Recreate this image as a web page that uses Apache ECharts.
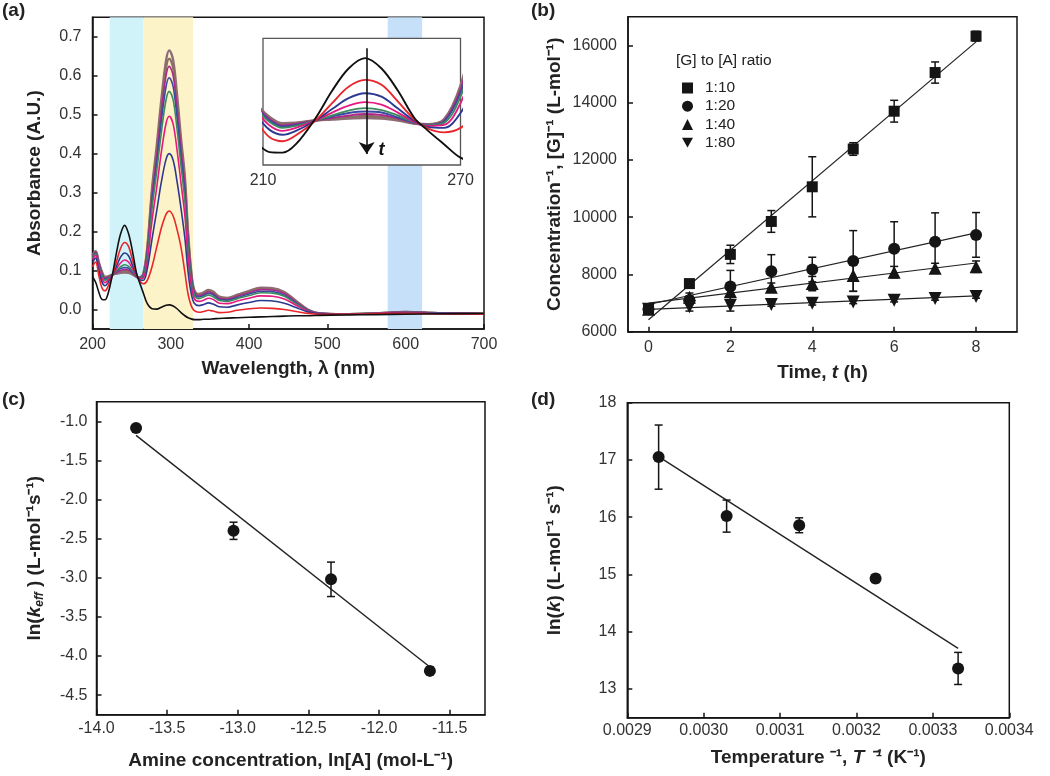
<!DOCTYPE html>
<html><head><meta charset="utf-8">
<script src="https://cdn.jsdelivr.net/npm/echarts@6/dist/echarts.min.js"></script>
<style>html,body{margin:0;padding:0;background:#fff}#c{width:1050px;height:776px}</style>
</head><body><div id="c"></div>
<script>
// ---------- Panel (a): UV-vis spectra ----------
const wavelengths = [200,204,208,212,216,220,226,231,236,241,246,251,256,260,265,270,276,282,288,294,298,303,308,313,318,322,326,330,336,342,348,354,362,372,385,400,415,430,445,460,475,490,520,560,600,640,700];
const specBlack   = [.084,.070,.045,.026,.025,.042,.095,.150,.195,.216,.195,.150,.095,.070,.042,.015,.002,.001,.006,.011,.012,.009,.002,-.008,-.016,-.021,-.024,-.026,-.026,-.025,-.025,-.024,-.023,-.022,-.021,-.020,-.019,-.018,-.017,-.016,-.016,-.015,-.014,-.013,-.012,-.011,-.010];
const specRed     = [.110,.122,.088,.056,.048,.060,.090,.125,.158,.172,.162,.128,.092,.074,.066,.075,.110,.160,.210,.245,.253,.240,.205,.160,.095,.040,.010,-.003,-.007,-.005,-.002,-.004,-.008,-.007,-.002,.002,.004,.003,.000,-.005,-.010,-.012,-.012,-.011,-.010,-.011,-.012];
const specBlue    = [.121,.132,.100,.071,.061,.069,.090,.113,.135,.145,.138,.114,.089,.077,.075,.105,.181,.253,.328,.386,.400,.383,.328,.260,.183,.097,.042,.016,.010,.013,.017,.014,.007,.006,.012,.018,.023,.022,.016,.005,-.006,-.011,-.012,-.011,-.009,-.010,-.012];
const specMagenta = [.128,.139,.108,.080,.069,.075,.090,.106,.120,.127,.122,.106,.087,.079,.081,.125,.228,.313,.405,.478,.496,.476,.409,.325,.240,.134,.063,.028,.021,.024,.029,.026,.016,.015,.022,.029,.035,.034,.027,.011,-.004,-.011,-.012,-.010,-.008,-.010,-.011];
const specGreen   = [.132,.143,.113,.087,.075,.079,.090,.100,.110,.115,.111,.100,.086,.080,.085,.138,.259,.354,.456,.539,.560,.538,.462,.369,.278,.159,.077,.037,.028,.032,.037,.033,.023,.021,.028,.036,.043,.042,.034,.015,-.003,-.011,-.012,-.010,-.007,-.010,-.011];
const specNavy    = [.135,.145,.116,.090,.078,.081,.090,.098,.105,.108,.106,.096,.085,.081,.088,.146,.276,.376,.484,.573,.595,.572,.491,.392,.298,.173,.085,.041,.032,.036,.041,.038,.026,.024,.031,.040,.047,.046,.037,.017,-.002,-.010,-.012,-.010,-.007,-.009,-.011];
const specPurple  = [.137,.147,.119,.093,.080,.083,.090,.095,.100,.103,.101,.094,.085,.081,.089,.152,.290,.394,.507,.601,.624,.600,.516,.412,.316,.184,.091,.045,.035,.039,.045,.041,.029,.026,.034,.043,.051,.050,.041,.019,-.001,-.010,-.012,-.010,-.006,-.009,-.011];
const specBrown   = [.139,.149,.120,.095,.082,.084,.090,.094,.097,.099,.097,.092,.084,.082,.091,.156,.300,.407,.524,.620,.644,.620,.533,.426,.328,.192,.096,.047,.038,.042,.047,.044,.031,.028,.036,.046,.053,.052,.043,.021,-.001,-.010,-.012,-.010,-.006,-.009,-.011];
const specMauve   = [.140,.150,.122,.097,.084,.085,.090,.092,.094,.095,.094,.090,.084,.082,.092,.160,.310,.420,.540,.640,.665,.640,.550,.440,.340,.200,.100,.050,.040,.044,.050,.046,.033,.030,.038,.048,.056,.055,.045,.022,.000,-.010,-.012,-.010,-.006,-.009,-.011];
const bandsA = [[222, 265], [265, 328.5], [577, 621]];
const ticksAX = [200,300,400,500,600,700];
const ticksAY = [0,0.1,0.2,0.3,0.4,0.5,0.6,0.7];
const insetTicks = [210, 270];
const arrowInset = [241.5, 0.236, 0.022]; // x, from, to
const tLabelInset = [246, 0.031];

// ---------- Panel (b) ----------
const timesB = [0,1,2,3,4,5,6,7,8];
const r10 = [6780,7680,8700,9850,11060,12380,13700,15050,16320];
const r10err = [100,120,320,380,1050,220,380,370,170];
const r20 = [6780,7100,7580,8110,8170,8470,8900,9140,9380];
const r20err = [80,150,560,580,430,1060,940,1010,780];
const r40 = [6780,7200,7400,7550,7680,7960,8080,8220,8270];
const r40err = [80,150,300,150,250,550,200,170,200];
const r80 = [6780,6870,6920,6950,6990,7040,7100,7160,7230];
const r80err = [60,150,200,60,60,60,60,60,60];
const fit10 = [[0,6420],[8,16120]];
const fit20 = [[0,6950],[8,9450]];
const fit40 = [[0,7000],[8,8400]];
const fit80 = [[0,6780],[8,7250]];
const ticksBX = [0,2,4,6,8];
const ticksBY = [6000,8000,10000,12000,14000,16000];

// ---------- Panel (c) ----------
const cx = [-13.72,-13.03,-12.34,-11.64];
const cy = [-1.085,-2.40,-3.02,-4.19];
const cerr = [0.04,0.11,0.22,0.05];
const fitC = [[-13.72,-1.18],[-11.64,-4.14]];
const ticksCX = [-14.0,-13.5,-13.0,-12.5,-12.0,-11.5];
const ticksCY = [-1.0,-1.5,-2.0,-2.5,-3.0,-3.5,-4.0,-4.5];

// ---------- Panel (d) ----------
const dx = [0.002941,0.003030,0.003125,0.003225,0.003333];
const dy = [17.05,16.02,15.86,14.93,13.36];
const derr = [0.56,0.28,0.13,0.07,0.28];
const fitD = [[0.002941,17.06],[0.003333,13.71]];
const ticksDX = [0.0029,0.0030,0.0031,0.0032,0.0033,0.0034];
const ticksDY = [13,14,15,16,17,18];

const FONT = '"Liberation Sans", Arial, sans-serif';
const INK = '#151515';
const TS = 19;

function axis(o){
  return {
    type:'value', gridIndex:o.grid, min:o.min, max:o.max,
    axisLine:{show:o.frame!==false, onZero:false, lineStyle:{color:INK, width:1.5}},
    axisTick:{show:o.frame!==false, inside:true, length:5, customValues:o.ticks, lineStyle:{color:INK, width:1.5}},
    splitLine:{show:false},
    axisLabel:{show:o.labels!==false, customValues:o.ticks, formatter:o.fmt, color:'#333', fontSize:16, fontFamily:FONT, margin:o.margin||8},
    name:o.name||'', nameLocation:'middle', nameGap:o.gap||30,
    nameTextStyle:{fontSize:TS, fontWeight:'bold', color:'#222', fontFamily:FONT,
      rich:{
        n:{fontSize:TS, fontWeight:'bold', color:'#222', fontFamily:FONT},
        i:{fontSize:TS, fontWeight:'bold', fontStyle:'italic', color:'#222', fontFamily:FONT},
        s:{fontSize:12, fontWeight:'bold', fontStyle:'italic', color:'#222', fontFamily:FONT, padding:[10,0,0,0]}
      }}
  };
}

const specDefs = [
  ['mauve', specMauve, '#8e6c78', 2.4],
  ['brown', specBrown, '#8a7062', 2.2],
  ['purple', specPurple, '#b0278c', 1.6],
  ['navy', specNavy, '#3a4aa0', 1.6],
  ['green', specGreen, '#3d8a5e', 1.6],
  ['magenta', specMagenta, '#e5197f', 1.6],
  ['blue', specBlue, '#2b3990', 1.6],
  ['red', specRed, '#e8262b', 1.6],
  ['black', specBlack, '#111111', 1.6]
];

function zip(xs, ys){ return xs.map((x,i)=>[x, ys[i]]); }
function zip3(xs, ys, es){ return xs.map((x,i)=>[x, ys[i], es[i]]); }

function errRender(params, api){
  const x = api.value(0), y = api.value(1), e = api.value(2);
  const a = api.coord([x, y+e]), b = api.coord([x, y-e]);
  const hw = 4, st = {stroke:INK, lineWidth:1.5};
  return {type:'group', children:[
    {type:'line', shape:{x1:a[0], y1:a[1], x2:b[0], y2:b[1]}, style:st},
    {type:'line', shape:{x1:a[0]-hw, y1:a[1], x2:a[0]+hw, y2:a[1]}, style:st},
    {type:'line', shape:{x1:b[0]-hw, y1:b[1], x2:b[0]+hw, y2:b[1]}, style:st}
  ]};
}

const series = [];
// main spectra
specDefs.forEach((d, k)=>{
  const s = {type:'line', name:d[0], xAxisIndex:0, yAxisIndex:0, data:zip(wavelengths, d[1]),
    symbol:'none', smooth:0.35, lineStyle:{color:d[2], width:d[3]}, silent:true, z:3};
  if (k===0){
    s.markArea = {silent:true, z:1, data:[
      [{xAxis:bandsA[0][0], itemStyle:{color:'#cff3f8'}}, {xAxis:bandsA[0][1]}],
      [{xAxis:bandsA[1][0], itemStyle:{color:'#fdf3c9'}}, {xAxis:bandsA[1][1]}],
      [{xAxis:bandsA[2][0], itemStyle:{color:'#c6e0fa'}}, {xAxis:bandsA[2][1]}]
    ]};
  }
  series.push(s);
});
// inset spectra
specDefs.forEach((d, k)=>{
  const s = {type:'line', xAxisIndex:1, yAxisIndex:1, data:zip(wavelengths, d[1]),
    symbol:'none', smooth:0.35, lineStyle:{color:d[2], width:d[3]+0.3}, silent:true, z:12, clip:true};
  if (k===specDefs.length-1){
    s.markLine = {silent:true, z:14, symbol:['none','arrow'], symbolSize:12, label:{show:false},
      lineStyle:{color:'#111', width:1.6, type:'solid'},
      data:[[{coord:[arrowInset[0], arrowInset[1]]},{coord:[arrowInset[0], arrowInset[2]]}]]};
    s.markPoint = {silent:true, z:14, symbol:'circle', symbolSize:0,
      label:{show:true, formatter:'t', fontSize:18, fontStyle:'italic', fontWeight:'bold', color:'#111', fontFamily:FONT},
      data:[{coord:tLabelInset}]};
  }
  series.push(s);
});

// panel (b)
[fit10, fit20, fit40, fit80].forEach(f=>{
  series.push({type:'line', xAxisIndex:2, yAxisIndex:2, data:f, symbol:'none', lineStyle:{color:'#222', width:1.2}, silent:true, z:3});
});
[[r10,r10err],[r20,r20err],[r40,r40err],[r80,r80err]].forEach(p=>{
  series.push({type:'custom', xAxisIndex:2, yAxisIndex:2, renderItem:errRender, data:zip3(timesB, p[0], p[1]), silent:true, z:4});
});
const bDefs = [['1:10', r10, 'rect', 11, 0], ['1:20', r20, 'circle', 12, 0], ['1:40', r40, 'triangle', 13, 0], ['1:80', r80, 'triangle', 13, 180]];
bDefs.forEach(b=>{
  series.push({type:'scatter', name:b[0], xAxisIndex:2, yAxisIndex:2, data:zip(timesB, b[1]),
    symbol:b[2], symbolSize:b[3], symbolRotate:b[4], itemStyle:{color:INK, opacity:1}, silent:true, z:5});
});

// panel (c)
series.push({type:'line', xAxisIndex:3, yAxisIndex:3, data:fitC, symbol:'none', lineStyle:{color:'#222', width:1.4}, silent:true, z:3});
series.push({type:'custom', xAxisIndex:3, yAxisIndex:3, renderItem:errRender, data:zip3(cx, cy, cerr), silent:true, z:4});
series.push({type:'scatter', xAxisIndex:3, yAxisIndex:3, data:zip(cx, cy), symbol:'circle', symbolSize:12, itemStyle:{color:INK, opacity:1}, silent:true, z:5});

// panel (d)
series.push({type:'line', xAxisIndex:4, yAxisIndex:4, data:fitD, symbol:'none', lineStyle:{color:'#222', width:1.4}, silent:true, z:3});
series.push({type:'custom', xAxisIndex:4, yAxisIndex:4, renderItem:errRender, data:zip3(dx, dy, derr), silent:true, z:4});
series.push({type:'scatter', xAxisIndex:4, yAxisIndex:4, data:zip(dx, dy), symbol:'circle', symbolSize:12, itemStyle:{color:INK, opacity:1}, silent:true, z:5});

const frame = {show:true, backgroundColor:'transparent', borderColor:INK, borderWidth:1.5};
const option = {
  animation:false,
  backgroundColor:'#fff',
  title:[
    {text:'(a)', left:2, top:1, padding:0, textStyle:{fontSize:19, fontWeight:'bold', color:'#222', fontFamily:FONT}},
    {text:'(b)', left:531, top:1, padding:0, textStyle:{fontSize:19, fontWeight:'bold', color:'#222', fontFamily:FONT}},
    {text:'(c)', left:2, top:390, padding:0, textStyle:{fontSize:19, fontWeight:'bold', color:'#222', fontFamily:FONT}},
    {text:'(d)', left:531, top:390, padding:0, textStyle:{fontSize:19, fontWeight:'bold', color:'#222', fontFamily:FONT}},
    {text:'[G] to [A] ratio', left:676, top:53, padding:0, textStyle:{fontSize:15.5, fontWeight:'normal', color:'#222', fontFamily:FONT}}
  ],
  legend:{orient:'vertical', left:677, top:75, itemWidth:11, itemHeight:11, itemGap:2.2, selectedMode:false,
    textStyle:{fontSize:15.5, lineHeight:15, color:'#222', fontFamily:FONT, padding:[0,0,0,7]},
    data:[{name:'1:10', icon:'rect'},{name:'1:20', icon:'circle'},{name:'1:40', icon:'triangle'},{name:'1:80', icon:'path://M0,0L10,0L5,9Z'}],
    itemStyle:{color:INK, opacity:1}},
  grid:[
    Object.assign({left:92.5, top:17.3, width:391.5, height:311.7, z:0}, frame),
    {show:true, left:263, top:38.3, width:197.5, height:126.7, backgroundColor:'#fff', borderColor:'#555', borderWidth:1.3, z:10},
    Object.assign({left:628, top:16.7, width:389, height:315}, frame),
    Object.assign({left:96.5, top:401.7, width:388.5, height:313}, frame),
    Object.assign({left:627.3, top:402.7, width:382, height:315}, frame)
  ],
  xAxis:[
    axis({grid:0, min:200, max:700, ticks:ticksAX, fmt:v=>String(v), name:'Wavelength, λ (nm)', gap:30}),
    Object.assign(axis({grid:1, min:210, max:270, ticks:insetTicks, fmt:v=>String(v), frame:false, margin:8}), {z:11}),
    axis({grid:2, min:-0.5, max:9, ticks:ticksBX, fmt:v=>String(v), name:'Time, {i|t} (h)', gap:32}),
    axis({grid:3, min:-14, max:-11.25, ticks:ticksCX, fmt:v=>v.toFixed(1), name:'Amine concentration, ln[A] (mol-L⁻¹)', gap:37, margin:6}),
    axis({grid:4, min:0.0029, max:0.0034, ticks:ticksDX, fmt:v=>v.toFixed(4), name:'Temperature ⁻¹, {i|T ⁻¹} (K⁻¹)', gap:31, margin:5})
  ],
  yAxis:[
    axis({grid:0, min:-0.05, max:0.75, ticks:ticksAY, fmt:v=>v.toFixed(1), name:'Absorbance (A.U.)', gap:48, margin:11}),
    Object.assign(axis({grid:1, min:0, max:0.256, ticks:[], fmt:v=>'', frame:false, labels:false}), {z:11}),
    axis({grid:2, min:6000, max:17000, ticks:ticksBY, fmt:v=>String(v), name:'Concentration⁻¹, [G]⁻¹ (L-mol⁻¹)', gap:64, margin:11}),
    axis({grid:3, min:-4.75, max:-0.75, ticks:ticksCY, fmt:v=>v.toFixed(1), name:'ln({i|k}{s|eff} ) (L-mol⁻¹s⁻¹)', gap:51, margin:9}),
    axis({grid:4, min:12.5, max:18, ticks:ticksDY, fmt:v=>String(v), name:'ln({i|k}) (L-mol⁻¹ s⁻¹)', gap:63, margin:11})
  ],
  series:series
};
const chart = echarts.init(document.getElementById('c'), null, {renderer:'canvas'});
chart.setOption(option);
</script>
</body></html>
